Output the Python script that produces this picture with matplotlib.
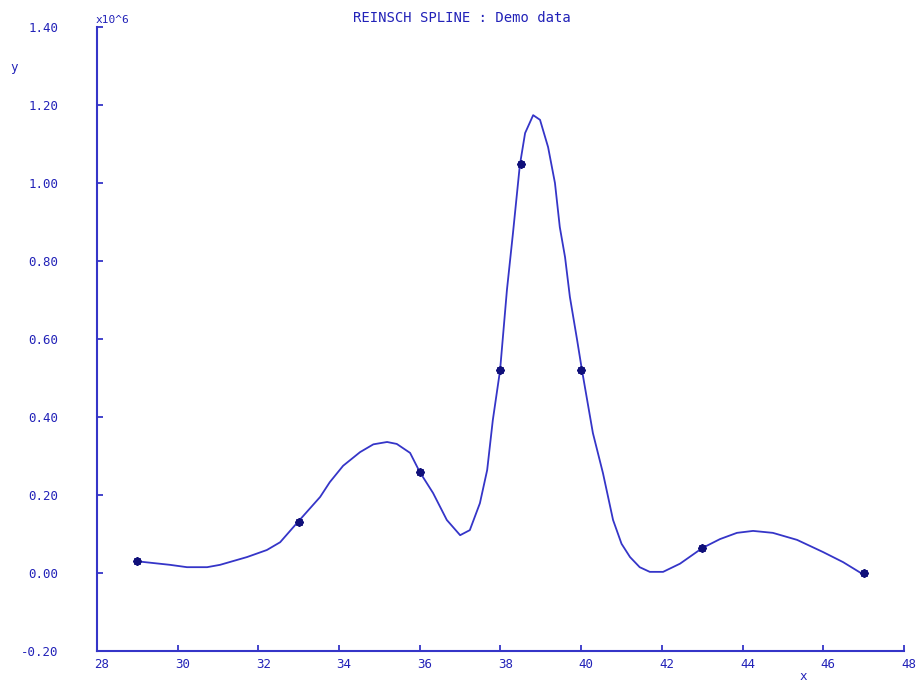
import matplotlib

matplotlib.use("Agg")
import matplotlib.pyplot as plt
import matplotlib.transforms as mtransforms

BLUE = "#3535C8"
TEXT = "#2222B8"
DARK = "#10107A"

# demo data points (y in units of 10^6)
data_x = [29, 33, 36, 38, 38.5, 40, 43, 47]
data_y = [0.03, 0.13, 0.26, 0.52, 1.05, 0.52, 0.065, 0.0]

# smoothing spline curve
curve_x = [29.0, 29.81, 30.23, 30.73, 31.05, 31.72, 32.21, 32.54, 32.98, 33.53,
           33.77, 34.1, 34.52, 34.85, 35.19, 35.43, 35.76, 36.0, 36.33, 36.67,
           37.0, 37.24, 37.49, 37.67, 37.81, 37.99, 38.16, 38.31, 38.48, 38.61,
           38.81, 38.98, 39.18, 39.35, 39.47, 39.6, 39.72, 39.9, 40.02, 40.29,
           40.54, 40.79, 41.0, 41.21, 41.45, 41.7, 42.03, 42.45, 43.0, 43.44,
           43.86, 44.26, 44.75, 45.35, 45.99, 46.49, 46.98]
curve_y = [0.03, 0.021, 0.015, 0.015, 0.021, 0.041, 0.059, 0.079, 0.131, 0.195,
           0.233, 0.275, 0.31, 0.33, 0.336, 0.331, 0.308, 0.259, 0.205, 0.136,
           0.097, 0.11, 0.179, 0.264, 0.392, 0.52, 0.726, 0.872, 1.046, 1.128,
           1.174, 1.162, 1.092, 1.0, 0.887, 0.81, 0.708, 0.597, 0.52, 0.359,
           0.256, 0.136, 0.075, 0.041, 0.015, 0.003, 0.003, 0.024, 0.064, 0.087,
           0.103, 0.108, 0.103, 0.085, 0.054, 0.028, -0.003]

x_ticks = [28, 30, 32, 34, 36, 38, 40, 42, 44, 46, 48]
y_ticks = [-0.2, 0.0, 0.2, 0.4, 0.6, 0.8, 1.0, 1.2, 1.4]

MONO = "DejaVu Sans Mono"

fig = plt.figure(figsize=(9.2, 6.84), dpi=100)
fig.patch.set_facecolor("white")
ax = fig.add_axes([0.1054, 0.0482, 0.8772, 0.9123])

ax.plot(curve_x, curve_y, color=BLUE, linewidth=1.3, zorder=3)
ax.plot(data_x, data_y, linestyle="none", marker=(8, 2, 0), markersize=6,
        markeredgewidth=1.4, color=DARK, zorder=4)

ax.set_xlim(28, 48)
ax.set_ylim(-0.2, 1.4)
ax.set_xticks(x_ticks)
ax.set_yticks(y_ticks)
ax.set_xticklabels([str(t) for t in x_ticks])
ax.set_yticklabels([f"{t:.2f}" for t in y_ticks])

for side in ("top", "right"):
    ax.spines[side].set_visible(False)
for side in ("left", "bottom"):
    ax.spines[side].set_color(BLUE)
    ax.spines[side].set_linewidth(1.5)

ax.tick_params(axis="both", direction="in", length=4, width=1.3, color=BLUE,
               labelcolor=TEXT, labelsize=9)
ax.tick_params(axis="y", pad=28)
ax.tick_params(axis="x", pad=5)
for lbl in ax.get_xticklabels() + ax.get_yticklabels():
    lbl.set_fontfamily(MONO)

# x labels sit a little to the right of their ticks
shift = mtransforms.ScaledTranslation(5 / 100, 0, fig.dpi_scale_trans)
for lbl in ax.get_xticklabels():
    lbl.set_transform(lbl.get_transform() + shift)

fig.text(462 / 920, 1 - 18 / 684, "REINSCH SPLINE : Demo data", ha="center",
         va="center", fontsize=10, color=TEXT, family=MONO)
fig.text(96 / 920, 1 - 20 / 684, "x10^6", ha="left", va="center", fontsize=8,
         color=TEXT, family=MONO)
fig.text(14 / 920, 1 - 68 / 684, "y", ha="center", va="center", fontsize=9,
         color=TEXT, family=MONO)
fig.text(803 / 920, 1 - 677 / 684, "x", ha="center", va="center", fontsize=9,
         color=TEXT, family=MONO)

fig.savefig("out.png", dpi=100, facecolor="white")
plt.close(fig)
